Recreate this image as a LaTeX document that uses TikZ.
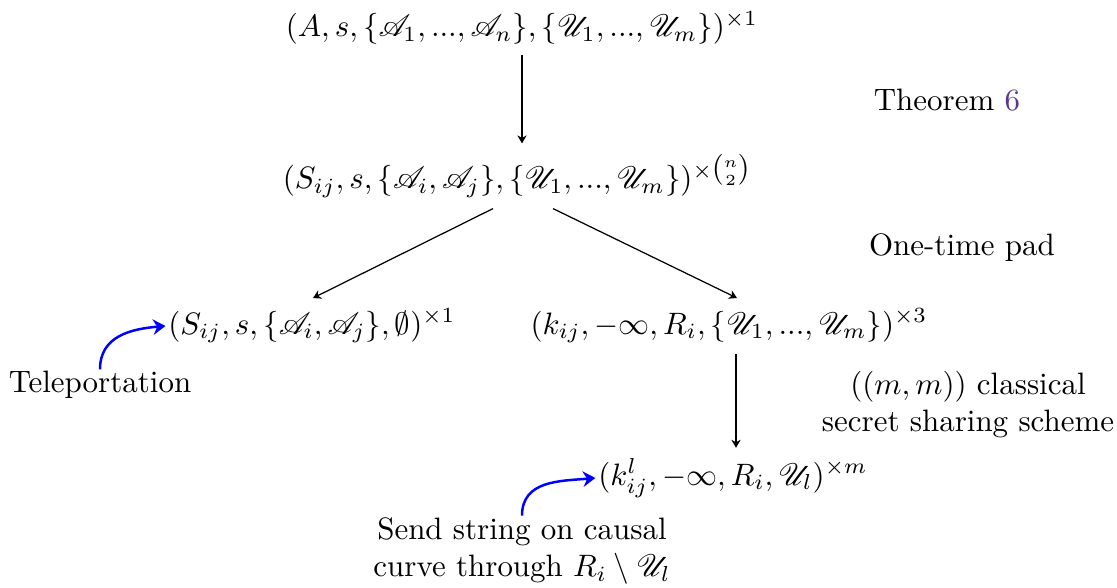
\documentclass[tikz,border=0pt]{standalone}
\usepackage{amsmath,amssymb,mathrsfs}
\usetikzlibrary{calc,arrows.meta}
\definecolor{linkpurple}{rgb}{0.36,0.21,0.56}
\begin{document}
\begin{tikzpicture}[x=0.01136cm,y=-0.01136cm,
  arr/.style={-{Stealth[length=2.6pt,width=3pt]}},
  blarr/.style={blue,thick,-{Stealth[length=4pt,width=5pt]}},
  lbl/.style={align=center}]
\useasboundingbox (0,0) rectangle (1117,588);
\node (top) at (522,28) {$(A,s,\{\mathscr{A}_1,...,\mathscr{A}_n\},\{\mathscr{U}_1,...,\mathscr{U}_m\})^{\times 1}$};
\node (mid) at (517,176) {$(S_{ij},s,\{\mathscr{A}_i,\mathscr{A}_j\},\{\mathscr{U}_1,...,\mathscr{U}_m\})^{\times\binom{n}{2}}$};
\node (left) at (312,326) {$(S_{ij},s,\{\mathscr{A}_i,\mathscr{A}_j\},\emptyset)^{\times 1}$};
\node (right) at (729,326) {$(k_{ij},-\infty,R_i,\{\mathscr{U}_1,...,\mathscr{U}_m\})^{\times 3}$};
\node (bot) at (733,478) {$(k_{ij}^l,-\infty,R_i,\mathscr{U}_l)^{\times m}$};
\node (thm) at (947,100) {Theorem \textcolor{linkpurple}{6}};
\node (otp) at (962,248) {One-time pad};
\node[lbl] (sss) at (968,405) {$((m,m))$ classical\\secret sharing scheme};
\node (tele) at (100,385) {Teleportation};
\node[lbl] (send) at (522,551) {Send string on causal\\curve through $R_i\setminus\mathscr{U}_l$};
\draw[arr] (top.south) -- (top.south |- mid.north);
\draw[arr] ($(mid.south)+(-24,0)$) -- ($(left.north)+(1,0)$);
\draw[arr] ($(mid.south)+(36,0)$) -- ($(right.north)+(8,0)$);
\draw[arr] ($(right.south)+(7,0)$) -- ($(bot.north)+(3,0)$);
\draw[blarr] ($(tele.north)+(0,9)$) to[out=90,in=185,looseness=1.1] ($(left.west)+(8,0)$);
\draw[blarr] ($(send.north)+(0,9)$) to[out=90,in=185,looseness=1.1] ($(bot.west)+(8,0)$);
\end{tikzpicture}
\end{document}
